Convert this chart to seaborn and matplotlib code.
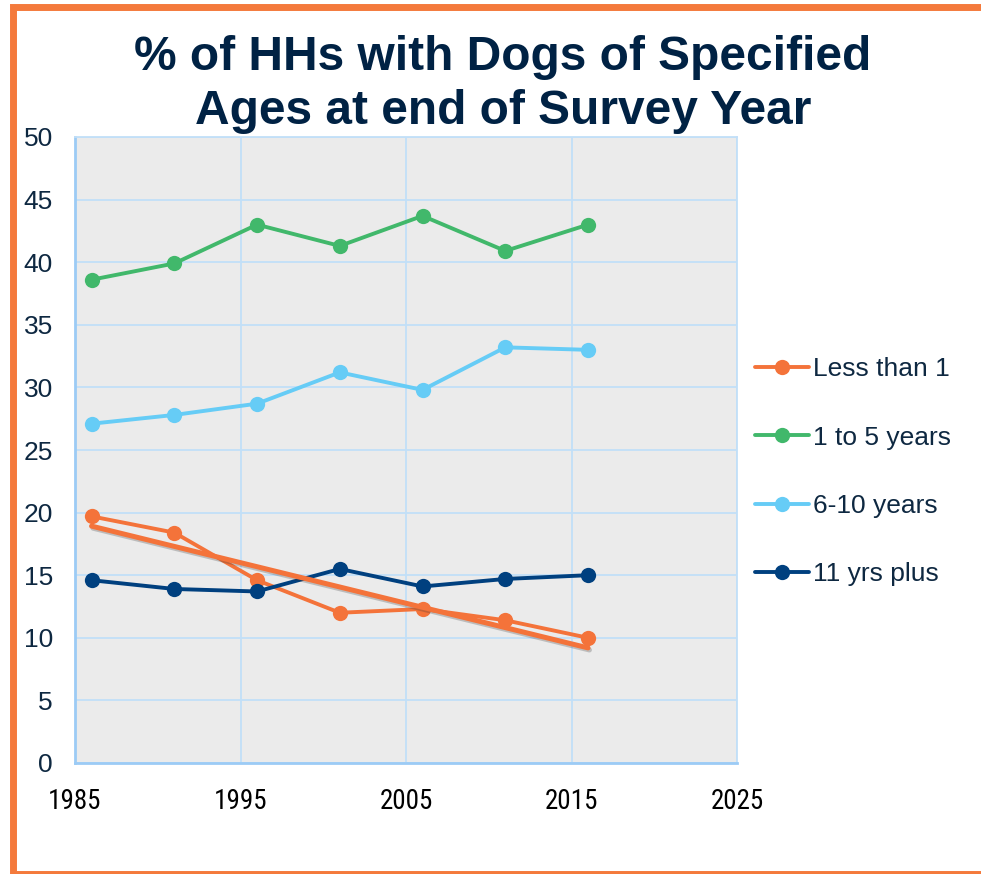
import seaborn as sns
import matplotlib.pyplot as plt
import matplotlib.patheffects as pe
from matplotlib.patches import Rectangle
import pandas as pd

years = [1986, 1991, 1996, 2001, 2006, 2011, 2016]
lessThan1 = [19.7, 18.4, 14.6, 12.0, 12.3, 11.4, 10.0]
oneToFive = [38.6, 39.9, 43.0, 41.3, 43.7, 40.9, 43.0]
sixToTen = [27.1, 27.8, 28.7, 31.2, 29.8, 33.2, 33.0]
elevenPlus = [14.6, 13.9, 13.7, 15.5, 14.1, 14.7, 15.0]

seriesNames = ['Less than 1', '1 to 5 years', '6-10 years', '11 yrs plus']
colors = ['#F4733A', '#41B86B', '#66CCF6', '#00407F']
xTicks = [1985, 1995, 2005, 2015, 2025]
yTicks = [0, 5, 10, 15, 20, 25, 30, 35, 40, 45, 50]

navy = '#0E2841'
gridBlue = '#C2DFF8'

sns.set_style('white')
plt.rcParams['font.family'] = ['Liberation Sans', 'DejaVu Sans']

fig = plt.figure(figsize=(9.81, 8.74), dpi=100)
ax = fig.add_axes([75/981, 1-763/874, 662/981, 626/874])
ax.set_facecolor('#EBEBEB')

# las cuatro series
allSeries = [lessThan1, oneToFive, sixToTen, elevenPlus]
for name, vals, col in zip(seriesNames, allSeries, colors):
    df = pd.DataFrame({'year': years, 'pct': vals})
    sns.lineplot(data=df, x='year', y='pct', ax=ax, color=col, linewidth=2.8,
                 marker='o', markersize=11, markeredgewidth=0, label=name, zorder=3)

# linea de tendencia de "Less than 1"
dfTrend = pd.DataFrame({'year': years, 'pct': lessThan1})
sns.regplot(data=dfTrend, x='year', y='pct', ax=ax, scatter=False, ci=None,
            line_kws={'color': '#F4733A', 'linewidth': 3.6, 'zorder': 4,
                      'path_effects': [pe.SimpleLineShadow(offset=(1, -1.5), shadow_color='#333333', alpha=0.25),
                                       pe.Normal()]})

ax.set_xlim(1985, 2025)
ax.set_ylim(0, 50)
ax.set_xticks(xTicks)
ax.set_yticks(yTicks)
ax.grid(True, color=gridBlue, linewidth=1.3)
ax.set_axisbelow(True)
for side in ['top', 'right']:
    ax.spines[side].set_color(gridBlue)
    ax.spines[side].set_linewidth(1.3)
for side in ['left', 'bottom']:
    ax.spines[side].set_color('#9CCBF5')
    ax.spines[side].set_linewidth(2)
ax.tick_params(axis='both', length=0)
ax.tick_params(axis='y', labelsize=19, labelcolor=navy, pad=16)
ax.tick_params(axis='x', pad=18)
for lbl in ax.get_xticklabels():
    lbl.set_family(['Liberation Sans Narrow', 'Roboto Condensed', 'Open Sans Condensed', 'DejaVu Sans Condensed', 'DejaVu Sans'])
    lbl.set_fontsize(19.5)
    lbl.set_color('black')
ax.set_xlabel('')
ax.set_ylabel('')

ax.legend(loc='upper left', bbox_to_anchor=(0.991, 0.686), frameon=False,
          fontsize=19, labelcolor=navy, labelspacing=1.68, handlelength=2.05,
          handletextpad=0.15)

fig.text(503/981, 1-58/874, '% of HHs with Dogs of Specified', ha='center', va='center',
         fontsize=34.5, fontweight='bold', color='#002244')
fig.text(503/981, 1-111/874, 'Ages at end of Survey Year', ha='center', va='center',
         fontsize=34.5, fontweight='bold', color='#002244')

# marco naranja
fig.patches.append(Rectangle((12.5/981, 0), 1.1, 1-7/874, transform=fig.transFigure,
                             fill=False, edgecolor='#F47A3C', linewidth=5.0, clip_on=False))

fig.savefig('out.png', dpi=100)
